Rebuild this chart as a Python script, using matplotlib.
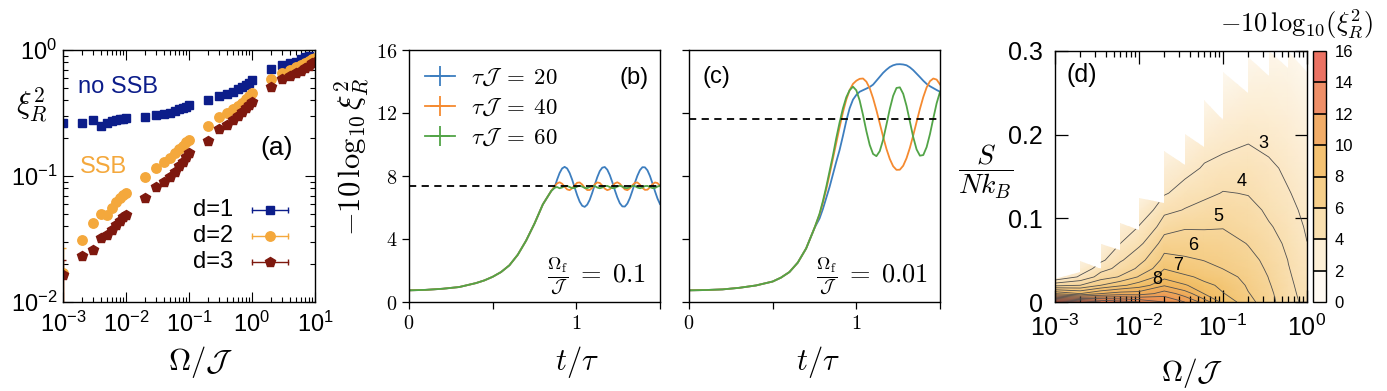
import numpy as np
import matplotlib
matplotlib.use('Agg')
import matplotlib.pyplot as plt
import matplotlib.cm as cm
from matplotlib.colors import LinearSegmentedColormap, ListedColormap, BoundaryNorm
from matplotlib.patches import Polygon
from matplotlib.lines import Line2D
from matplotlib.ticker import LogLocator, FixedLocator, FuncFormatter, NullFormatter

plt.rcParams['font.family'] = 'Liberation Sans'
plt.rcParams['mathtext.fontset'] = 'cm'
plt.rcParams['axes.unicode_minus'] = False
plt.rcParams['axes.linewidth'] = 1.0

# ---------------- panel (a): squeezing vs Omega ----------------
omega_a = [0.001, 0.002, 0.003, 0.004, 0.005, 0.006, 0.007, 0.008, 0.009,
           0.01, 0.02, 0.03, 0.04, 0.05, 0.06, 0.07, 0.08, 0.09,
           0.1, 0.2, 0.3, 0.4, 0.5, 0.6, 0.7, 0.8, 0.9,
           1, 2, 3, 4, 5, 6, 7, 8, 9, 10]
xi_d1 = [0.262, 0.262, 0.278, 0.249, 0.265, 0.273, 0.278, 0.282, 0.283,
         0.287, 0.296, 0.305, 0.311, 0.318, 0.328, 0.338, 0.348, 0.355,
         0.364, 0.401, 0.431, 0.447, 0.467, 0.487, 0.512, 0.527, 0.550,
         0.578, 0.703, 0.760, 0.784, 0.808, 0.843, 0.874, 0.900]
xi_d2 = [0.0169, 0.031, 0.042, 0.050, 0.049, 0.056, 0.062, 0.067, 0.071,
         0.073, 0.099, 0.115, 0.128, 0.138, 0.151, 0.163, 0.173, 0.187,
         0.193, 0.249, 0.292, 0.318, 0.338, 0.359, 0.382, 0.406, 0.431,
         0.458, 0.585, 0.661, 0.694, 0.729, 0.760, 0.793, 0.823, 0.843, 0.859]
xi_d3 = [0.0164, 0.023, 0.026, 0.032, 0.034, 0.037, 0.041, 0.044, 0.047,
         0.049, 0.0665, 0.082, 0.090, 0.099, 0.108, 0.119, 0.130, 0.141,
         0.151, 0.191, 0.235, 0.254, 0.278, 0.299, 0.324, 0.344, 0.366,
         0.389, 0.506, 0.585, 0.622, 0.653, 0.685, 0.715, 0.746, 0.784, 0.808]
# error bar range of the first point (lower, upper)
d2_bar = [0.008, 0.027]
d3_bar = [0.0095, 0.0216]

# ---------------- panels (b), (c): time traces ----------------
t_rise_b = [0, 0.1, 0.2, 0.3, 0.4, 0.45, 0.5, 0.55, 0.6, 0.65, 0.7, 0.75, 0.8, 0.85]
y_rise_b = [0.74, 0.77, 0.84, 0.95, 1.2, 1.37, 1.6, 1.9, 2.33, 3.0, 3.9, 4.98, 6.2, 7.05]
t_tail_b = [0.870, 0.885, 0.900, 0.915, 0.930, 0.945, 0.960, 0.975, 0.990, 1.005,
            1.020, 1.035, 1.050, 1.065, 1.080, 1.095, 1.110, 1.125, 1.140, 1.155,
            1.170, 1.185, 1.200, 1.215, 1.230, 1.245, 1.260, 1.275, 1.290, 1.305,
            1.320, 1.335, 1.350, 1.365, 1.380, 1.395, 1.410, 1.425, 1.440, 1.455,
            1.470, 1.485, 1.500]
tail_b20 = [7.27, 7.77, 8.19, 8.48, 8.58, 8.48, 8.19, 7.77, 7.27, 6.78,
            6.37, 6.11, 6.04, 6.18, 6.49, 6.93, 7.44, 7.92, 8.31, 8.53,
            8.57, 8.40, 8.06, 7.61, 7.10, 6.64, 6.27, 6.07, 6.06, 6.25,
            6.60, 7.06, 7.57, 8.02, 8.37, 8.56, 8.55, 8.36, 8.00, 7.53,
            7.03, 6.57, 6.22]
tail_b40 = [7.35, 7.53, 7.60, 7.51, 7.32, 7.15, 7.10, 7.22, 7.41, 7.57,
            7.59, 7.46, 7.26, 7.11, 7.11, 7.25, 7.47, 7.59, 7.56, 7.39,
            7.20, 7.10, 7.16, 7.35, 7.53, 7.60, 7.51, 7.32, 7.15, 7.10,
            7.22, 7.41, 7.57, 7.59, 7.45, 7.25, 7.12, 7.13, 7.28, 7.48,
            7.59, 7.55, 7.38]
tail_b60 = [7.25, 7.30, 7.22, 7.27, 7.36, 7.37, 7.30, 7.23, 7.24, 7.33,
            7.38, 7.33, 7.24, 7.23, 7.30, 7.37, 7.36, 7.27, 7.22, 7.27,
            7.36, 7.37, 7.30, 7.23, 7.24, 7.33, 7.38, 7.33, 7.24, 7.23,
            7.30, 7.37, 7.36, 7.27, 7.22, 7.27, 7.36, 7.37, 7.30, 7.23,
            7.24, 7.33, 7.38]
plateau_b = 7.37

t_rise_c = [0, 0.1, 0.2, 0.3, 0.4, 0.5, 0.55, 0.6, 0.65, 0.7, 0.75]
y_rise_c = [0.74, 0.76, 0.80, 0.90, 1.05, 1.3, 1.55, 1.9, 2.5, 3.4, 4.7]
t_tail_c = [0.78, 0.80, 0.82, 0.84, 0.86, 0.88, 0.90, 0.92, 0.94, 0.96,
            0.98, 1.00, 1.02, 1.04, 1.06, 1.08, 1.10, 1.12, 1.14, 1.16,
            1.18, 1.20, 1.22, 1.24, 1.26, 1.28, 1.30, 1.32, 1.34, 1.36,
            1.38, 1.40, 1.42, 1.44, 1.46, 1.48, 1.50]
tail_c20 = [5.3, 5.9, 6.6, 7.3, 8.1, 8.9, 9.65, 10.55, 11.5, 12.3,
            12.85, 13.15, 13.35, 13.45, 13.55, 13.65, 13.8, 14.05, 14.3, 14.55,
            14.75, 14.92, 15.03, 15.09, 15.1, 15.08, 15.03, 14.9, 14.72, 14.5,
            14.28, 14.05, 13.85, 13.7, 13.58, 13.46, 13.35]
tail_c40 = [5.55, 6.3, 7.15, 8.1, 9.1, 10.1, 11.1, 12.05, 12.85, 13.45,
            13.85, 14.05, 14.17, 14.19, 13.99, 13.57, 12.94, 12.18, 11.34, 10.50,
            9.72, 9.08, 8.62, 8.39, 8.40, 8.65, 9.13, 9.79, 10.58, 11.43,
            12.26, 13.01, 13.62, 14.02, 14.19, 14.12, 13.81]
tail_c60 = [5.6, 6.4, 7.3, 8.3, 9.3, 10.4, 11.4, 12.3, 13.0, 13.45,
            13.67, 13.44, 12.79, 11.87, 10.85, 9.97, 9.40, 9.26, 9.58, 10.30,
            11.26, 12.26, 13.09, 13.59, 13.63, 13.22, 12.45, 11.46, 10.47, 9.69,
            9.29, 9.33, 9.83, 10.66, 11.66, 12.62, 13.34]
plateau_c = 11.59

tau_labels = [r'$\tau\mathcal{J}\; = \;20$', r'$\tau\mathcal{J}\; = \;40$', r'$\tau\mathcal{J}\; = \;60$']
curve_colors = ['#3d7ebf', '#f58a30', '#52a447']

# ---------------- panel (d): map of -10 log10 xi^2 ----------------
omega_d = [0.001, 0.002, 0.0035, 0.006, 0.01, 0.02, 0.035, 0.06, 0.1, 0.2, 0.35, 0.6, 1.0]
s_grid = [0, 0.01, 0.02, 0.03, 0.04, 0.05, 0.07, 0.09, 0.11, 0.13, 0.16, 0.19, 0.22, 0.26, 0.30]
# rows follow s_grid, columns follow omega_d
squeeze_db = [
    [16.0, 15.0, 14.0, 13.5, 13.0, 12.0, 11.0, 9.5, 7.6, 6.3, 5.3, 4.3, 3.7],
    [9.0, 8.0, 9.0, 9.5, 9.5, 10.5, 9.5, 7.95, 7.05, 6.05, 5.2, 4.24, 3.6],
    [4.7, 5.0, 6.0, 6.8, 7.5, 8.9, 8.1, 7.25, 6.75, 5.85, 5.08, 4.18, 3.5],
    [2.0, 3.2, 4.5, 5.1, 6.1, 7.7, 7.2, 6.7, 6.35, 5.65, 4.97, 4.11, 3.4],
    [1.0, 2.3, 3.6, 4.4, 5.2, 6.95, 6.5, 6.3, 5.98, 5.45, 4.82, 4.04, 3.3],
    [0.6, 1.5, 2.8, 3.9, 4.7, 6.35, 6.15, 5.97, 5.75, 5.3, 4.68, 3.97, 3.2],
    [0.4, 0.5, 1.5, 3.0, 3.8, 5.5, 5.5, 5.45, 5.35, 4.95, 4.4, 3.75, 3.02],
    [0.3, 0.3, 0.5, 2.0, 3.05, 4.55, 4.9, 4.9, 4.95, 4.6, 4.1, 3.52, 2.85],
    [0.3, 0.3, 0.3, 0.8, 2.3, 3.75, 4.05, 4.3, 4.5, 4.3, 3.8, 3.3, 2.65],
    [0.3, 0.3, 0.3, 0.3, 1.2, 2.9, 3.5, 3.8, 4.05, 3.95, 3.55, 3.07, 2.45],
    [0.3, 0.3, 0.3, 0.3, 0.4, 2.0, 2.6, 3.15, 3.4, 3.5, 3.2, 2.75, 2.15],
    [0.3, 0.3, 0.3, 0.3, 0.3, 1.0, 1.8, 2.4, 2.7, 2.98, 2.75, 2.4, 1.85],
    [0.3, 0.3, 0.3, 0.3, 0.3, 0.4, 0.6, 1.6, 2.0, 2.4, 2.3, 2.0, 1.5],
    [0.3, 0.3, 0.3, 0.3, 0.3, 0.3, 0.3, 0.6, 1.1, 1.6, 1.7, 1.5, 1.1],
    [0.3, 0.3, 0.3, 0.3, 0.3, 0.3, 0.3, 0.3, 0.4, 0.8, 1.0, 1.0, 0.7],
]
# upper edge of the computed region: top of each column and where it ends at the next column
s_top = [0.028, 0.049, 0.069, 0.094, 0.124, 0.18, 0.201, 0.241, 0.275, 0.293, 0.30, 0.30, 0.29]
s_end = [0.036, 0.040, 0.062, 0.086, 0.118, 0.164, 0.185, 0.218, 0.25, 0.27, 0.28, 0.275]
contour_levels = [3, 4, 5, 6, 7, 8, 9, 10, 11, 12, 13, 14, 15]
label_levels = [3, 4, 5, 6, 7, 8]
label_pos = [(0.30, 0.189), (0.167, 0.144), (0.088, 0.102), (0.0443, 0.0676), (0.0288, 0.0439), (0.0166, 0.0273)]
cbar_bounds = [0, 2, 4, 6, 8, 10, 12, 14, 16]

c_d1, c_d2, c_d3 = '#0c1d8a', '#f4a83c', '#7e180e'

W, H = 1387, 391


def box(l, t, r, b):
    return [l / W, 1 - b / H, (r - l) / W, (b - t) / H]


fig = plt.figure(figsize=(W / 100, H / 100), dpi=100)

# ---- (a)
ax = fig.add_axes(box(63, 50, 315, 302))
ax.set_xscale('log')
ax.set_yscale('log')
ax.errorbar([omega_a[0]], [xi_d2[0]], yerr=[[xi_d2[0] - d2_bar[0]], [d2_bar[1] - xi_d2[0]]],
            fmt='none', ecolor=c_d2, elinewidth=1, capsize=2.5)
ax.errorbar([omega_a[0]], [xi_d3[0]], yerr=[[xi_d3[0] - d3_bar[0]], [d3_bar[1] - xi_d3[0]]],
            fmt='none', ecolor=c_d3, elinewidth=1, capsize=2.5)
ax.plot(omega_a[:len(xi_d1)], xi_d1, 's', color=c_d1, ms=6.3, mec=c_d1)
ax.plot(omega_a, xi_d2, 'o', color=c_d2, ms=6.8, mec=c_d2)
ax.plot(omega_a, xi_d3, 'p', color=c_d3, ms=7.8, mec=c_d3)
ax.set_xlim(1e-3, 1e1)
ax.set_ylim(1e-2, 1e0)
ax.xaxis.set_major_locator(LogLocator(base=10, numticks=10))
ax.yaxis.set_major_locator(LogLocator(base=10, numticks=10))
ax.xaxis.set_minor_locator(LogLocator(base=10, subs=np.arange(2, 10), numticks=20))
ax.yaxis.set_minor_locator(LogLocator(base=10, subs=np.arange(2, 10), numticks=20))
ax.xaxis.set_minor_formatter(NullFormatter())
ax.yaxis.set_minor_formatter(NullFormatter())
ax.tick_params(which='both', direction='in', top=True, right=True, labelsize=17)
ax.tick_params(which='major', length=7, width=0.8)
ax.tick_params(which='minor', length=3.5, width=0.8)
ax.tick_params(axis='x', pad=7)
ax.tick_params(axis='y', pad=4)
ax.set_xlabel(r'$\Omega/\mathcal{J}$', fontsize=22, va='center')
ax.xaxis.set_label_coords(0.544, -0.238)
ax.set_ylabel(r'$\xi_R^2$', fontsize=22, rotation=0, ha='center', va='center')
ax.yaxis.set_label_coords(-0.125, 0.78)
ax.text(0.218, 0.853, 'no SSB', color=c_d1, fontsize=17, ha='center', va='center', transform=ax.transAxes)
ax.text(0.159, 0.536, 'SSB', color=c_d2, fontsize=17, ha='center', va='center', transform=ax.transAxes)
ax.text(0.849, 0.611, '(a)', fontsize=19, ha='center', va='center', transform=ax.transAxes)
for i, (lab, col, mk, ms) in enumerate([('d=1', c_d1, 's', 6.3), ('d=2', c_d2, 'o', 6.8), ('d=3', c_d3, 'p', 7.8)]):
    yy = 0.365 - i * 0.103
    ax.text(0.675, yy, lab, fontsize=17, ha='right', va='center', transform=ax.transAxes)
    ax.plot([0.75, 0.893], [yy, yy], color=col, lw=1, transform=ax.transAxes)
    ax.plot([0.75, 0.893], [yy, yy], ls='none', marker='|', ms=5, mew=1, color=col, transform=ax.transAxes)
    ax.plot([0.821], [yy], marker=mk, ms=ms, color=col, transform=ax.transAxes)

# ---- (b), (c)
int_fmt = FuncFormatter(lambda v, p: f'${v:g}$' if float(v).is_integer() else '')
panels = [
    (box(409, 50, 660, 302), t_rise_b, y_rise_b, t_tail_b, [tail_b20, tail_b40, tail_b60],
     plateau_b, '(b)', (0.896, 0.889), r'$\frac{\Omega_{\rm f}}{\mathcal{J}}\; = \;0.1$', (0.745, 0.107), 0.67),
    (box(689, 50, 940, 302), t_rise_c, y_rise_c, t_tail_c, [tail_c20, tail_c40, tail_c60],
     plateau_c, '(c)', (0.11, 0.893), r'$\frac{\Omega_{\rm f}}{\mathcal{J}}\; = \;0.01$', (0.73, 0.107), 0.514),
]
for k, (pos, tr, yr, tt, tails, plat, tag, tagpos, ftxt, fpos, xlab_x) in enumerate(panels):
    axp = fig.add_axes(pos)
    for tail, col in zip(tails, curve_colors):
        axp.plot(tr + tt, yr + tail, color=col, lw=1.3)
    axp.axhline(plat, color='k', ls='--', lw=1.3, dashes=(4, 3))
    axp.set_xlim(0, 1.5)
    axp.set_ylim(0, 16)
    axp.xaxis.set_major_locator(FixedLocator([0, 0.5, 1, 1.5]))
    axp.yaxis.set_major_locator(FixedLocator([0, 4, 8, 12, 16]))
    axp.xaxis.set_major_formatter(int_fmt)
    axp.yaxis.set_major_formatter(int_fmt)
    axp.tick_params(direction='out', length=5, width=0.9, labelsize=14.5)
    axp.set_xlabel(r'$t/\tau$', fontsize=22, va='center')
    axp.xaxis.set_label_coords(xlab_x, -0.238)
    axp.text(tagpos[0], tagpos[1], tag, fontsize=17, ha='center', va='center', transform=axp.transAxes)
    axp.text(fpos[0], fpos[1], ftxt, fontsize=19, ha='center', va='center', transform=axp.transAxes)
    if k == 0:
        axp.set_ylabel(r'$-10\,\mathrm{log}_{10}\,\xi_R^2$', fontsize=22, va='center')
        axp.yaxis.set_label_coords(-0.227, 0.575)
        handles = [Line2D([], [], color=c, lw=1.3, marker='+', ms=15, mew=1.3) for c in curve_colors]
        axp.legend(handles, tau_labels, loc='upper left', bbox_to_anchor=(0.0, 1.0), frameon=False,
                   fontsize=16.5, handlelength=1.3, handletextpad=0.7, labelspacing=0.3, borderaxespad=0.3)
    else:
        axp.yaxis.set_major_formatter(NullFormatter())

# ---- (d)
axd = fig.add_axes(box(1055, 51, 1307, 302))
axd.set_xscale('log')
# colour bar bins (sampled at bin centres)
cmap = LinearSegmentedColormap.from_list('sq', [
    (0.0, '#ffffff'), (1 / 16, '#fffaf2'), (3 / 16, '#fcefd6'), (5 / 16, '#f9e0b0'),
    (7 / 16, '#f6cf8a'), (9 / 16, '#f4c272'), (11 / 16, '#f2ae68'), (13 / 16, '#ef9068'),
    (15 / 16, '#eb7466'), (1.0, '#e54a3a')])
# smooth shading used inside the map
field_cmap = LinearSegmentedColormap.from_list('sqf', [
    (0.0, '#ffffff'), (1 / 16, '#fdf6ea'), (3 / 16, '#fbe7c4'), (5 / 16, '#f7d69a'),
    (6 / 16, '#f5cd85'), (7.5 / 16, '#f2c067'), (9 / 16, '#f0b35c'), (11 / 16, '#ed9a55'),
    (14 / 16, '#e8704a'), (1.0, '#e0432f')])
Xg, Yg = np.meshgrid(omega_d, s_grid)
Zg = np.array(squeeze_db)
mesh = axd.pcolormesh(Xg, Yg, Zg, shading='gouraud', cmap=field_cmap, vmin=0, vmax=16)
cs = axd.contour(Xg, Yg, Zg, levels=contour_levels, colors='#505050', linewidths=0.6)
verts = [(omega_d[0], 0), (omega_d[0], s_top[0])]
for i in range(len(omega_d) - 1):
    verts.append((omega_d[i + 1], s_end[i]))
    verts.append((omega_d[i + 1], s_top[i + 1]))
verts.append((omega_d[-1], 0))
clip = Polygon(verts, closed=True, facecolor='none', edgecolor='none', transform=axd.transData)
axd.add_patch(clip)
mesh.set_clip_path(clip)
cs.set_clip_path(clip)
for lev, (xo, yo) in zip(label_levels, label_pos):
    axd.text(xo, yo, str(lev), fontsize=13, ha='center', va='center')
axd.set_xlim(1e-3, 1)
axd.set_ylim(0, 0.3)
axd.xaxis.set_major_locator(LogLocator(base=10, numticks=10))
axd.xaxis.set_minor_locator(LogLocator(base=10, subs=np.arange(2, 10), numticks=20))
axd.xaxis.set_minor_formatter(NullFormatter())
axd.yaxis.set_major_locator(FixedLocator([0, 0.1, 0.2, 0.3]))
axd.yaxis.set_major_formatter(FuncFormatter(lambda v, p: f'{v:g}'))
axd.tick_params(which='both', direction='in', top=True, right=True, labelsize=18)
axd.tick_params(which='major', length=9, width=0.9)
axd.tick_params(which='minor', length=4.5, width=0.9)
axd.tick_params(axis='x', pad=9)
axd.tick_params(axis='y', pad=9)
axd.set_xlabel(r'$\Omega/\mathcal{J}$', fontsize=21, va='center')
axd.xaxis.set_label_coords(0.544, -0.283)
axd.set_ylabel(r'$\dfrac{S}{Nk_B}$', fontsize=20, rotation=0, ha='center', va='center')
axd.yaxis.set_label_coords(-0.274, 0.518)
axd.text(0.107, 0.904, '(d)', fontsize=18, ha='center', va='center', transform=axd.transAxes)

cax = fig.add_axes(box(1313, 51, 1326, 302))
centers = [(cbar_bounds[i] + cbar_bounds[i + 1]) / 2 for i in range(len(cbar_bounds) - 1)]
disc = ListedColormap([cmap(c / 16) for c in centers])
norm = BoundaryNorm(cbar_bounds, disc.N)
cb = fig.colorbar(cm.ScalarMappable(norm=norm, cmap=disc), cax=cax, ticks=cbar_bounds, drawedges=True)
cb.dividers.set_linewidth(1.2)
cb.outline.set_linewidth(1.0)
cb.ax.tick_params(length=0, labelsize=12, pad=6)
fig.text(1296 / W, 1 - 24 / H, r'$-10\,\mathrm{log}_{10}(\xi_R^2)$', fontsize=19, ha='center', va='center')

fig.savefig('out.png', dpi=100)
